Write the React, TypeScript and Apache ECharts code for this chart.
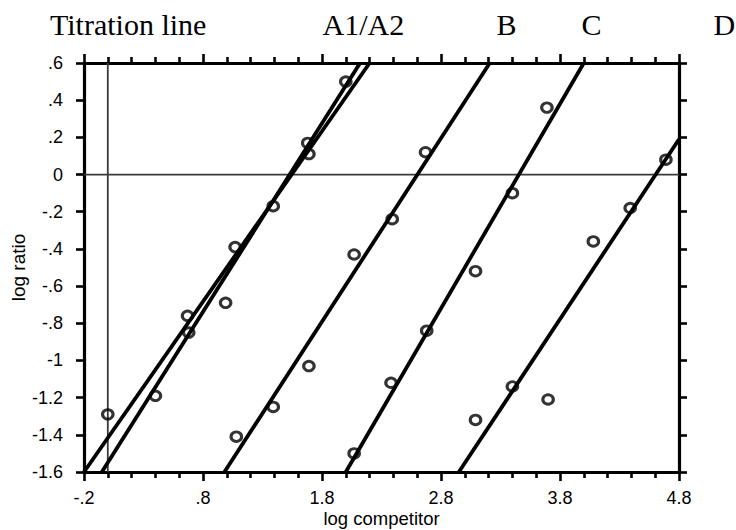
import React, { useEffect, useRef } from "react";
import * as echarts from "echarts";

// ---- data ----
const X_MIN = -0.2;
const X_MAX = 4.8;
const Y_MIN = -1.6;
const Y_MAX = 0.6;
const Y_STEP = 0.2;
const X_STEP = 1;

const topLabels = ["Titration line", "A1/A2", "B", "C", "D"];
const xAxisName = "log competitor";
const yAxisName = "log ratio";

// scatter points per group [log competitor, log ratio]
const pointsA: [number, number][] = [
  [0.0, -1.29], [0.40, -1.19], [0.67, -0.76], [0.68, -0.85], [0.99, -0.69],
  [1.07, -0.39], [1.39, -0.17], [1.68, 0.17], [1.69, 0.11], [2.0, 0.50],
];
const pointsB: [number, number][] = [
  [1.08, -1.41], [1.39, -1.25], [1.69, -1.03], [2.07, -0.43], [2.39, -0.24], [2.67, 0.12],
];
const pointsC: [number, number][] = [
  [2.07, -1.50], [2.38, -1.12], [2.68, -0.84], [3.09, -0.52], [3.40, -0.10], [3.69, 0.36],
];
const pointsD: [number, number][] = [
  [3.09, -1.32], [3.40, -1.14], [3.70, -1.21], [4.08, -0.36], [4.39, -0.18], [4.69, 0.08],
];

// fitted lines: endpoints
const lineA1: [number, number][] = [[-0.2, -1.6], [2.20, 0.6]];
const lineA2: [number, number][] = [[-0.05, -1.6], [2.12, 0.6]];
const lineB: [number, number][] = [[0.98, -1.6], [3.21, 0.6]];
const lineC: [number, number][] = [[2.0, -1.6], [4.0, 0.6]];
const lineD: [number, number][] = [[2.95, -1.6], [4.8, 0.19]];

// reference lines
const zeroH: [number, number][] = [[X_MIN, 0], [X_MAX, 0]];
const zeroV: [number, number][] = [[0, Y_MIN], [0, Y_MAX]];

const fmt = (v: number) => {
  const r = Math.round(v * 10) / 10;
  if (Math.abs(r) < 1e-9) return "0";
  return String(r).replace(/^(-?)0\./, "$1.");
};

const SANS = "'Liberation Sans', Arial, Helvetica, sans-serif";
const SERIF = "'Liberation Serif', 'Times New Roman', serif";

export default function App() {
  const ref = useRef<HTMLDivElement>(null);

  useEffect(() => {
    if (!ref.current) return;
    const chart = echarts.init(ref.current, undefined, { renderer: "svg" });

    const axisLine = { show: true, onZero: false, lineStyle: { color: "#000", width: 3.2 } };
    const tickStyle = { color: "#000", width: 2.6 };

    const displayX = (position: "bottom" | "top", labels: boolean) => ({
      type: "value",
      position,
      min: 0,
      max: X_MAX - X_MIN,
      interval: X_STEP,
      axisLine,
      axisTick: { show: true, inside: false, length: 9, lineStyle: tickStyle },
      minorTick: { show: true, splitNumber: 5, length: 6, lineStyle: tickStyle },
      splitLine: { show: false },
      minorSplitLine: { show: false },
      axisLabel: {
        show: labels,
        margin: 17,
        color: "#000",
        fontSize: 18,
        fontFamily: SANS,
        formatter: (v: number) => fmt(v + X_MIN),
      },
      ...(labels
        ? {
            name: xAxisName,
            nameLocation: "middle",
            nameGap: 36,
            nameMoveOverlap: false,
            nameTextStyle: { color: "#000", fontSize: 18.5, fontFamily: SANS, lineHeight: 20 },
          }
        : {}),
    });

    const yAxisDef = (position: "left" | "right", labels: boolean) => ({
      type: "value",
      position,
      min: Y_MIN,
      max: Y_MAX,
      interval: Y_STEP,
      axisLine,
      axisTick: { show: true, inside: false, length: 8, lineStyle: tickStyle },
      splitLine: { show: false },
      axisLabel: {
        show: labels,
        margin: 21,
        color: "#000",
        fontSize: 18,
        fontFamily: SANS,
        formatter: (v: number) => fmt(v),
      },
      ...(labels
        ? {
            name: yAxisName,
            nameLocation: "middle",
            nameGap: 56,
            nameMoveOverlap: false,
            nameTextStyle: { color: "#000", fontSize: 19, fontFamily: SANS },
          }
        : {}),
    });

    const fitLine = (data: [number, number][]) => ({
      type: "line",
      xAxisIndex: 0,
      yAxisIndex: 0,
      data,
      symbol: "none",
      silent: true,
      z: 3,
      lineStyle: { color: "#000", width: 3.8 },
    });

    const refLine = (data: [number, number][]) => ({
      type: "line",
      xAxisIndex: 0,
      yAxisIndex: 0,
      data,
      symbol: "none",
      silent: true,
      z: 2,
      lineStyle: { color: "#3a3a3a", width: 1.8 },
    });

    const scatter = (data: [number, number][]) => ({
      type: "scatter",
      xAxisIndex: 0,
      yAxisIndex: 0,
      data,
      symbol: "circle",
      symbolSize: [10.5, 9.5],
      silent: true,
      z: 4,
      itemStyle: { color: "rgba(0,0,0,0)", borderColor: "#000", borderWidth: 3 },
    });

    const labelX = [50, 322.5, 496.5, 581.5, 713.5];

    chart.setOption({
      animation: false,
      backgroundColor: "#fff",
      grid: {
        left: 84,
        top: 63,
        width: 595,
        height: 409,
        containLabel: false,
        outerBoundsMode: "none",
      },
      xAxis: [
        { type: "value", min: X_MIN, max: X_MAX, show: false, position: "bottom" },
        displayX("bottom", true),
        displayX("top", false),
      ],
      yAxis: [yAxisDef("left", true), yAxisDef("right", false)],
      graphic: topLabels.map((t, i) => ({
        type: "text",
        left: labelX[i],
        top: 9,
        style: { text: t, font: `30px ${SERIF}`, fill: "#000" },
      })),
      series: [
        refLine(zeroH),
        refLine(zeroV),
        fitLine(lineA1),
        fitLine(lineA2),
        fitLine(lineB),
        fitLine(lineC),
        fitLine(lineD),
        scatter(pointsA),
        scatter(pointsB),
        scatter(pointsC),
        scatter(pointsD),
      ],
    });

    return () => chart.dispose();
  }, []);

  return (
    <div
      ref={ref}
      style={{ position: "fixed", left: 0, top: 0, width: 736, height: 530, background: "#fff" }}
    />
  );
}
